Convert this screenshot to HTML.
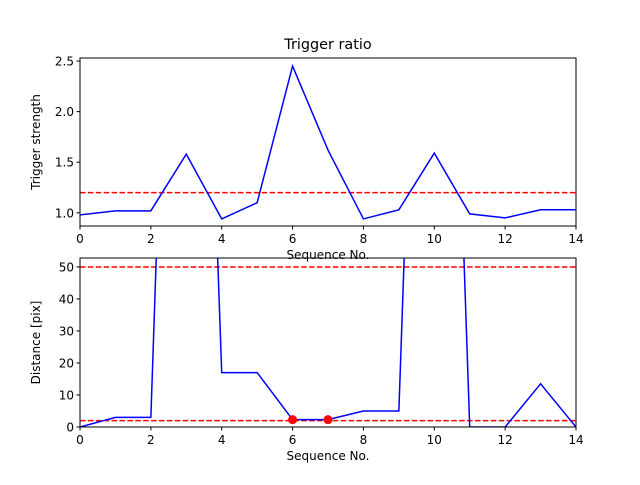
<!DOCTYPE html>
<html><head><meta charset="utf-8"><style>
body{margin:0;background:#fff;width:640px;height:480px;overflow:hidden}
text{font-family:"DejaVu Sans","Liberation Sans",sans-serif;font-size:12px;fill:#000}
</style></head><body>
<svg id="chart" width="640" height="480" xmlns="http://www.w3.org/2000/svg">
<defs>
<clipPath id="c1"><rect x="80" y="58" width="496" height="168"/></clipPath>
<clipPath id="c2"><rect x="80" y="258" width="496" height="169"/></clipPath>
</defs>
<text x="328" y="49" text-anchor="middle" style="font-size:14.4px">Trigger ratio</text>
<g id="g1"></g><g id="g2"></g>
</svg>
<script>
const seq = [0,1,2,3,4,5,6,7,8,9,10,11,12,13,14];
const strength = [0.98,1.02,1.02,1.58,0.94,1.10,2.45,1.62,0.94,1.03,1.59,0.99,0.95,1.03,1.03];
const strengthThreshold = [1.2];
const distance = [0,3,3,330,17,17,2.3,2.3,5,5,324,0,0,13.5,0];
const distThresholds = [50,2];
const markedSeq = [6,7];
const markedDist = [2.3,2.3];
const xTicks = [0,2,4,6,8,10,12,14];
const yTicks1 = [1.0,1.5,2.0,2.5];
const yTicks2 = [0,10,20,30,40,50];

const NS="http://www.w3.org/2000/svg";
const X0=80,X1=576;
const sx=v=>X0+(v-0)/(14-0)*(X1-X0);
function mk(tag,attrs,parent){const e=document.createElementNS(NS,tag);for(const k in attrs)e.setAttribute(k,attrs[k]);parent.appendChild(e);return e;}
function panel(g,top,bot,ymin,ymax,ticks,fmt,ylabel,clip,xs,ys,thr,name){
  const sy=v=>bot-(v-ymin)/(ymax-ymin)*(bot-top);
  const lbl=mk('text',{x:40,y:(top+bot)/2,'text-anchor':'middle',transform:`rotate(-90 40 ${(top+bot)/2})`},g);
  lbl.textContent=ylabel;
  
  
  const yl=mk('text',{x:328,y:bot+33,'text-anchor':'middle'},g);
  yl.textContent='Sequence No.';
  
  
  thr.forEach(t=>{const l=mk('line',{x1:X0,x2:X1,y1:sy(t),y2:sy(t),stroke:'#f00','stroke-width':1.5,'stroke-dasharray':'5.5,2.4'},g);
    
    });
  const pts=xs.map((x,i)=>sx(x).toFixed(2)+','+sy(ys[i]).toFixed(2)).join(' ');
  const pl=mk('polyline',{points:pts,fill:'none',stroke:'#00f','stroke-width':1.5,'clip-path':`url(#${clip})`},g);
  
  
  const fr=mk('rect',{x:X0,y:top,width:X1-X0,height:bot-top,fill:'none',stroke:'#000','stroke-width':1},g);
  
  
  xTicks.forEach(t=>{mk('line',{x1:sx(t),x2:sx(t),y1:bot,y2:bot+3.5,stroke:'#000'},g);
    const tx=mk('text',{x:sx(t),y:bot+17,'text-anchor':'middle'},g);tx.textContent=t;
    
    });
  ticks.forEach(t=>{mk('line',{x1:X0-3.5,x2:X0,y1:sy(t),y2:sy(t),stroke:'#000'},g);
    const tx=mk('text',{x:X0-6,y:sy(t)+4.5,'text-anchor':'end'},g);tx.textContent=fmt(t);
    
    });
  return sy;
}
const g1=document.getElementById('g1'),g2=document.getElementById('g2');
panel(g1,58,226,0.87,2.53,yTicks1,t=>t.toFixed(1),'Trigger strength','c1',seq,strength,strengthThreshold,'top');
const sy2=panel(g2,258,427,0,52.8,yTicks2,t=>String(t),'Distance [pix]','c2',seq,distance,distThresholds,'bottom');
markedSeq.forEach((s,i)=>{const c=mk('circle',{cx:sx(s),cy:sy2(markedDist[i]),r:4.5,fill:'#f00'},g2);
  
  });
</script>
</body></html>
